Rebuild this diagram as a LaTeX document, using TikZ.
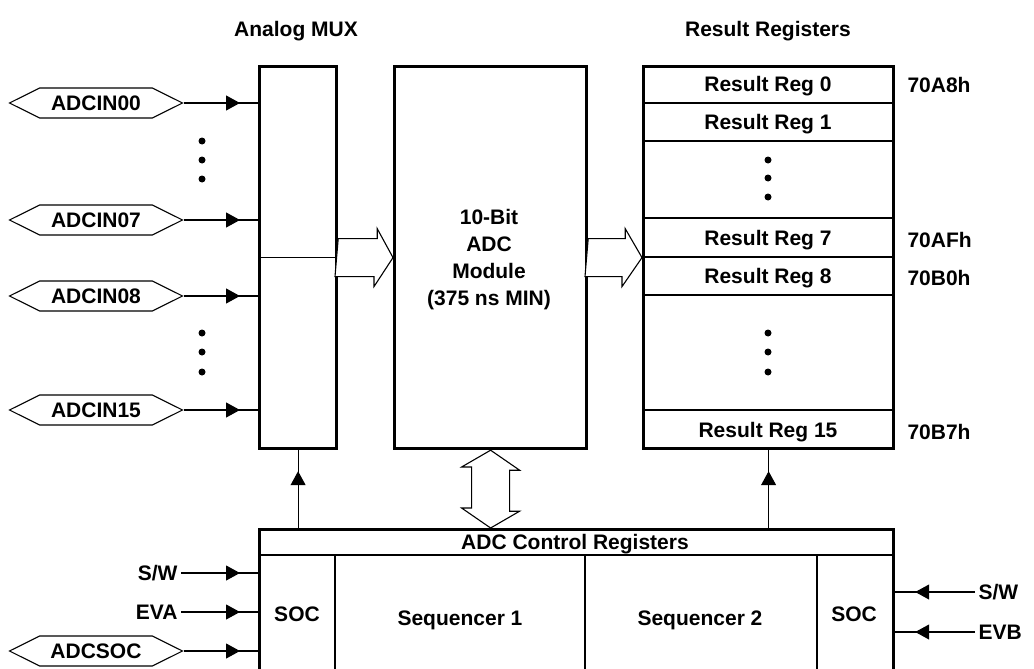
\documentclass[tikz,border=0pt]{standalone}
\usepackage{fontspec}
\setmainfont{Liberation Sans}
\usetikzlibrary{arrows.meta,calc,shapes.symbols,decorations.markings}

\tikzset{
  box/.style={draw, line width=3.2pt, anchor=north west, inner sep=0pt},
  thinline/.style={line width=1.1pt},
  pin/.style={signal, signal to=west and east, signal pointer angle=53, draw,
    line width=1.1pt, minimum width=173pt, minimum height=30pt, inner sep=0pt},
  feed/.style={thinline, postaction={decorate}, decoration={markings,
    mark=at position #1 with {\arrow{Triangle[length=14pt,width=15pt]}}}},
  feed/.default=-18pt,
  fat/.style={line width=1.1pt, fill=white, line join=miter},
  dot/.style={circle, fill, inner sep=0pt, minimum size=7pt},
}

\begin{document}
\begin{tikzpicture}[x=1pt, y=-1pt, font=\fontsize{21}{25}\selectfont\bfseries]
  \clip (0,0) rectangle (1034,669);

  % headers
  \node (muxhead) at (296,31) {Analog MUX};
  \node (reshead) at (768,31) {Result Registers};

  % blocks
  \node[box, minimum width=77pt, minimum height=382pt] (mux) at (258,65) {};
  \node[box, minimum width=192pt, minimum height=382pt] (adc) at (393,65) {};
  \node[box, minimum width=250pt, minimum height=382pt] (res) at (642,65) {};
  \node[box, minimum width=634pt, minimum height=170pt] (ctrl) at (258,528) {};

  \draw[thinline] (mux.west) -- (mux.east);
  \node[align=center, font=\fontsize{21}{27}\selectfont\bfseries] (adctext) at (489,260)
    {10-Bit\\ADC\\Module\\(375 ns MIN)};

  % result registers
  \foreach \y in {103,141,218,257,295,410}
    \draw[thinline] (642,\y) -- (892,\y);
  \node (reg0) at (768,86) {Result Reg 0};
  \node (reg1) at (768,124) {Result Reg 1};
  \node (reg7) at (768,240) {Result Reg 7};
  \node (reg8) at (768,278) {Result Reg 8};
  \node (reg15) at (768,432) {Result Reg 15};
  \foreach \y in {160,178,197,333,352,372}
    \node[dot] (rd\y) at (768,\y) {};
  \node[anchor=west] (adr0) at (904,85) {70A8h};
  \node[anchor=west] (adr7) at (904,240) {70AFh};
  \node[anchor=west] (adr8) at (904,278) {70B0h};
  \node[anchor=west] (adr15) at (904,432) {70B7h};

  % analog inputs
  \node[pin] (in00) at (96,103) {ADCIN00};
  \node[pin] (in07) at (96,220) {ADCIN07};
  \node[pin] (in08) at (96,296) {ADCIN08};
  \node[pin] (in15) at (96,410) {ADCIN15};
  \foreach \n in {in00,in07,in08,in15}
    \draw[feed] (\n.east) -- (\n.east -| mux.west);
  \foreach \y in {141,160,179,333,352,372}
    \node[dot] (ld\y) at (202,\y) {};

  % wide data paths
  \draw[fat] (mux.east) ++(0,-19) -- ++(39,0) -- ++(0,-10) -- (adc.west)
    -- ++(-19,29) -- ++(0,-10) -- ++(-39,0) -- cycle;
  \draw[fat] (adc.east) ++(0,-19) -- ++(37,0) -- ++(0,-10) -- (res.west)
    -- ++(-20,29) -- ++(0,-10) -- ++(-37,0) -- cycle;
  \draw[fat] (adc.south) -- ++(29,20) -- ++(-10,0) -- ++(0,41) -- ++(10,0)
    -- (adc.south |- ctrl.north) -- ++(-29,-20) -- ++(10,0) -- ++(0,-41)
    -- ++(-10,0) -- cycle;

  % control
  \draw[feed=-21pt] (mux.south |- ctrl.north) -- (mux.south);
  \draw[feed=-21pt] (res.south |- ctrl.north) -- (res.south);
  \node (ctrltitle) at (575,544) {ADC Control Registers};
  \draw[thinline] (258,555) -- (892,555);
  \foreach \x in {335,585,817}
    \draw[thinline] (\x,555) -- (\x,669);
  \node (socl) at (297,614) {SOC};
  \node (seq1) at (460,620) {Sequencer 1};
  \node (seq2) at (700,620) {Sequencer 2};
  \node (socr) at (854,614) {SOC};

  % start of conversion
  \node[anchor=east] (swa) at (181,573) {S/W};
  \node[anchor=east] (eva) at (181,612) {EVA};
  \node[pin] (adcsoc) at (96,651) {ADCSOC};
  \foreach \n in {swa,eva,adcsoc}
    \draw[feed] (\n.east) -- (\n.east -| ctrl.west);
  \node[anchor=west] (swb) at (975,592) {S/W};
  \node[anchor=west] (evb) at (975,632) {EVB};
  \foreach \n in {swb,evb}
    \draw[feed=-20pt] (\n.west) -- (\n.west -| ctrl.east);
\end{tikzpicture}
\end{document}
